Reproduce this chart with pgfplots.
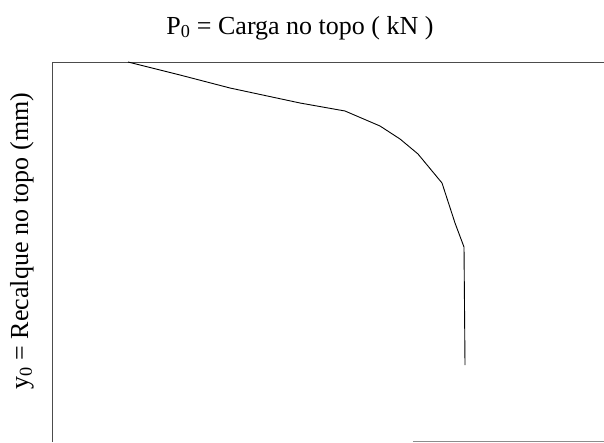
\documentclass[border=0pt]{standalone}
\usepackage{fontspec}
\setmainfont{Liberation Serif}
\usepackage{pgfplots}
\pgfplotsset{compat=1.18}

\begin{document}
\begin{tikzpicture}
\useasboundingbox (-52pt,0pt) rectangle (552pt,442pt);
\begin{axis}[
  at={(0pt,0pt)}, anchor=south west,
  scale only axis, width=552pt, height=380pt,
  xmin=0, xmax=552, ymin=0, ymax=380,
  y dir=reverse,
  axis x line=top, axis y line=left,
  axis line style={-, line width=0.9pt, black!70},
  xtick=\empty, ytick=\empty,
  clip=false,
]
% load-settlement curve
\addplot[black, line width=0.9pt] coordinates {
  (76,0) (128,13) (178,26) (248,41) (293,49) (328,64) (348,77)
  (366,92) (390,121) (403,161) (412,185) (413,303)
};
\draw[black!45, line width=0.8pt] (axis cs:361,379.5) -- (axis cs:552,379.5);
\end{axis}
\node[font=\fontsize{26}{30}\selectfont] at (248pt,414pt)
  {P\textsubscript{0} = Carga no topo ( kN )};
\node[font=\fontsize{26}{30}\selectfont, rotate=90] at (-30pt,201pt)
  {y\textsubscript{0} = Recalque no topo (mm)};
\end{tikzpicture}
\end{document}
